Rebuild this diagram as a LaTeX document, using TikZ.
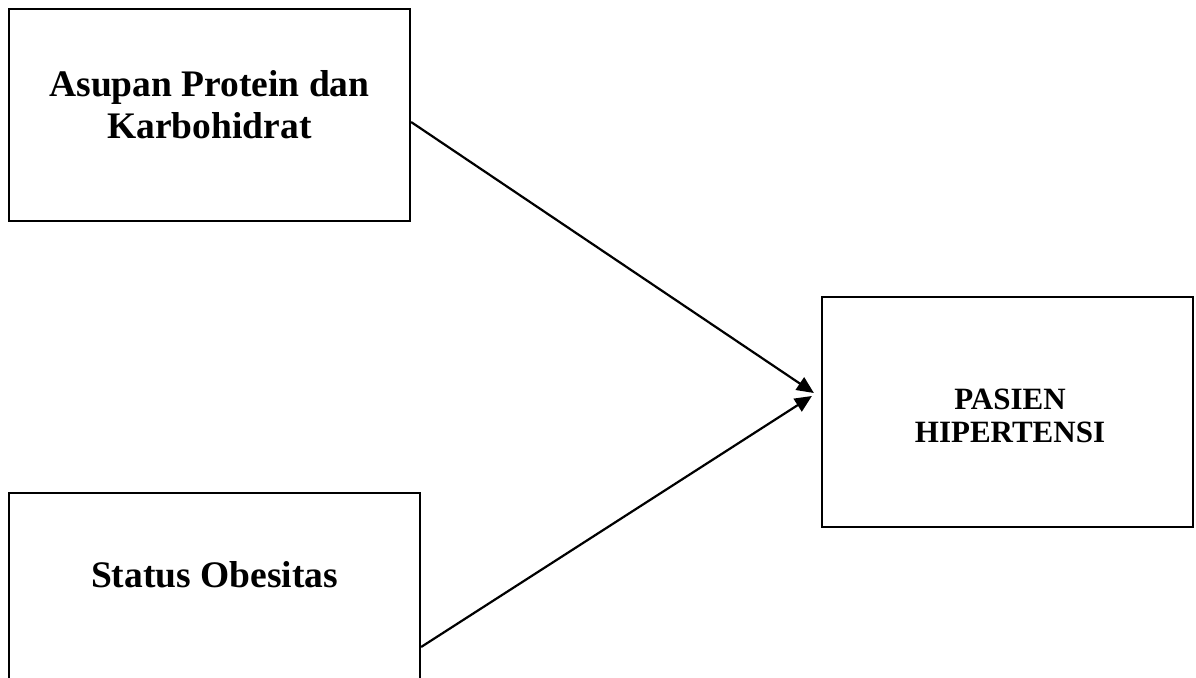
\documentclass[tikz,border=0pt]{standalone}
\usepackage{fontspec}
\setmainfont{Liberation Serif}
\usetikzlibrary{arrows.meta}
\begin{document}
\begin{tikzpicture}[x=1pt,y=-1pt,
  boxstyle/.style={draw=black,line width=2.2pt,rectangle,inner sep=0pt},
  bigtext/.style={font=\bfseries\fontsize{37.5}{42}\selectfont,align=center,inner sep=0pt},
  smalltext/.style={font=\bfseries\fontsize{31}{33}\selectfont,align=center,inner sep=0pt},
  conn/.style={line width=2.2pt,-{Triangle[length=17pt,width=15pt]}}]
\useasboundingbox (0,0) rectangle (1196,677);
\node[boxstyle,minimum width=401pt,minimum height=212pt] (b1) at (209.5,115) {};
\node[boxstyle,minimum width=411pt,minimum height=207pt] (b2) at (214.5,596.5) {};
\node[boxstyle,minimum width=371pt,minimum height=230pt] (b3) at (1007.5,412) {};
\node[bigtext] (t1) at (209.5,105) {Asupan Protein dan\\Karbohidrat};
\node[bigtext] (t2) at (214.5,575) {Status Obesitas};
\node[smalltext] (t3) at (1010,416) {PASIEN\\HIPERTENSI};
\draw[conn] ([yshift=-7pt]b1.east) -- ([xshift=-7pt,yshift=19pt]b3.west);
\draw[conn] ([yshift=-50.5pt]b2.east) -- ([xshift=-9pt,yshift=16pt]b3.west);
\end{tikzpicture}
\end{document}
